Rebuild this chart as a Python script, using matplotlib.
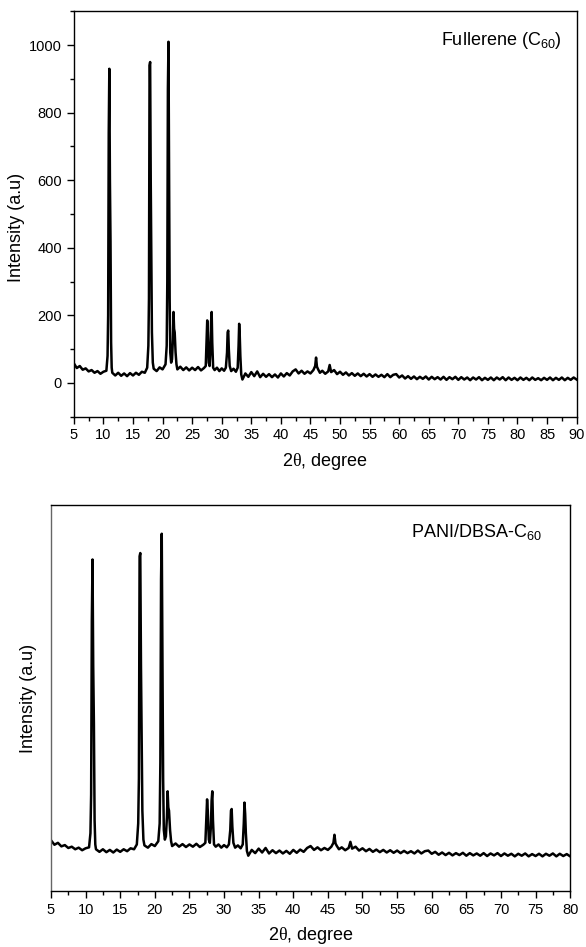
import numpy as np
import matplotlib
matplotlib.use("Agg")
import matplotlib.pyplot as plt
from matplotlib.ticker import MultipleLocator

plt.rcParams['font.family'] = ['Liberation Sans', 'DejaVu Sans']
plt.rcParams['mathtext.fontset'] = 'custom'
plt.rcParams['mathtext.rm'] = 'Liberation Sans'
plt.rcParams['mathtext.tt'] = 'Liberation Serif'

# XRD pattern (2theta in degrees, intensity in a.u.)
two_theta = [
    5.0, 5.5, 6.0, 6.5, 7.0, 7.5, 8.0, 8.5, 9.0, 9.5, 10.0, 10.5,
    10.7, 10.8, 10.9, 11.0, 11.1, 11.2, 11.3, 11.4,
    11.5, 12.0, 12.5, 13.0, 13.5, 14.0, 14.5, 15.0, 15.5, 16.0, 16.5, 17.0, 17.4,
    17.6, 17.7, 17.8, 17.9, 18.0, 18.1, 18.2, 18.35,
    18.5, 19.0, 19.5, 20.0, 20.5,
    20.7, 20.8, 20.9, 21.0, 21.1, 21.2, 21.3, 21.45, 21.6,
    21.75, 21.85, 21.95, 22.05, 22.2, 22.35,
    22.5, 23.0, 23.5, 24.0, 24.5, 25.0, 25.5, 26.0, 26.5, 27.0, 27.3,
    27.45, 27.55, 27.65, 27.8, 27.95,
    28.1, 28.2, 28.3, 28.4, 28.55,
    28.8, 29.2, 29.6, 30.0, 30.4, 30.7,
    30.9, 31.0, 31.1, 31.2, 31.35,
    31.6, 32.0, 32.4, 32.7,
    32.85, 32.95, 33.05, 33.15, 33.3,
    33.5, 34.0, 34.5, 35.0, 35.5, 36.0, 36.5, 37.0, 37.5, 38.0, 38.5, 39.0,
    39.5, 40.0, 40.5, 41.0, 41.5, 42.0, 42.5, 43.0, 43.5, 44.0, 44.5, 45.0, 45.5,
    45.8, 45.95, 46.1, 46.3, 46.6,
    47.0, 47.5, 48.0, 48.25, 48.5, 49.0, 49.5, 50.0, 50.5, 51.0, 51.5, 52.0,
    52.5, 53.0, 53.5, 54.0, 54.5, 55.0, 55.5, 56.0, 56.5, 57.0, 57.5, 58.0,
    58.5, 59.0, 59.5, 60.0, 60.5, 61.0, 61.5, 62.0, 62.5, 63.0, 63.5, 64.0,
    64.5, 65.0, 65.5, 66.0, 66.5, 67.0, 67.5, 68.0, 68.5, 69.0, 69.5, 70.0,
    70.5, 71.0, 71.5, 72.0, 72.5, 73.0, 73.5, 74.0, 74.5, 75.0, 75.5, 76.0,
    76.5, 77.0, 77.5, 78.0, 78.5, 79.0, 79.5, 80.0, 80.5, 81.0, 81.5, 82.0,
    82.5, 83.0, 83.5, 84.0, 84.5, 85.0, 85.5, 86.0, 86.5, 87.0, 87.5, 88.0,
    88.5, 89.0, 89.5, 90.0,
]
intensity = [
    58, 44, 50, 39, 43, 34, 38, 30, 35, 27, 33, 36,
    80, 200, 740, 930, 600, 420, 120, 45,
    30, 22, 30, 21, 28, 20, 29, 22, 30, 24, 33, 30, 45,
    110, 250, 940, 950, 600, 380, 150, 60,
    42, 35, 46, 40, 55,
    110, 300, 870, 1010, 600, 250, 90, 60, 70,
    130, 210, 160, 150, 90, 55,
    40, 48, 38, 46, 37, 45, 38, 47, 37, 44, 50,
    130, 185, 150, 60, 50,
    100, 180, 210, 120, 45,
    38, 45, 35, 43, 36, 45,
    90, 150, 155, 100, 50,
    35, 42, 33, 45,
    110, 175, 140, 80, 25,
    10, 28, 18, 32, 20, 34, 17, 27, 18, 26, 17, 25,
    16, 28, 19, 29, 22, 34, 40, 28, 36, 27, 34, 28, 38,
    50, 75, 48, 40, 30,
    36, 27, 34, 53, 32, 38, 26, 33, 24, 31, 22, 29,
    21, 28, 20, 27, 19, 26, 18, 25, 18, 24, 17, 26,
    17, 24, 26, 16, 22, 13, 20, 12, 19, 11, 18, 12,
    19, 10, 18, 11, 17, 10, 18, 9, 17, 11, 18, 9,
    17, 10, 16, 8, 16, 10, 17, 8, 15, 9, 16, 8,
    16, 10, 17, 8, 16, 9, 15, 8, 16, 9, 15, 8,
    16, 9, 14, 8, 15, 9, 16, 8, 15, 9, 16, 8,
    15, 9, 16, 10,
]
assert len(two_theta) == len(intensity)

labels = ["Fullerene (C$_{\\mathrm{60}}$)", "PANI/DBSA-C$_{\\mathrm{60}}$"]
label_x = [0.97, 0.945]
x_max = [90, 80]

x = np.array(two_theta)
y = np.array(intensity)

fig = plt.figure(figsize=(5.86, 9.47), dpi=100)
ax1 = fig.add_axes([0.126, 0.560, 0.858, 0.428])
ax2 = fig.add_axes([0.087, 0.059, 0.886, 0.408])

for i, ax in enumerate([ax1, ax2]):
    m = x <= x_max[i]
    ax.plot(x[m], y[m], color='black', lw=1.8)
    ax.set_xlim(5, x_max[i])
    ax.set_ylim(-100, 1100)
    ax.xaxis.set_major_locator(MultipleLocator(5))
    ax.xaxis.set_minor_locator(MultipleLocator(2.5))
    ax.tick_params(axis='both', which='major', direction='out', length=5,
                   width=1, labelsize=10.5, top=False, right=False)
    ax.tick_params(axis='both', which='minor', direction='out', length=3,
                   width=1, top=False, right=False)
    ax.set_xlabel("2$\\mathtt{\\theta}$, degree", fontsize=13, labelpad=6)
    ax.set_ylabel("Intensity (a.u)", fontsize=13)
    ax.text(label_x[i], 0.955, labels[i], transform=ax.transAxes, ha='right',
            va='top', fontsize=13)
    for s in ax.spines.values():
        s.set_linewidth(1)

ax1.yaxis.set_major_locator(MultipleLocator(200))
ax1.yaxis.set_minor_locator(MultipleLocator(100))
ax1.yaxis.set_label_coords(-0.098, 0.466)

ax2.set_yticks([])
ax2.spines['left'].set_color('#666666')
ax2.yaxis.set_label_coords(-0.026, 0.5)

fig.savefig("out.png", dpi=100)
